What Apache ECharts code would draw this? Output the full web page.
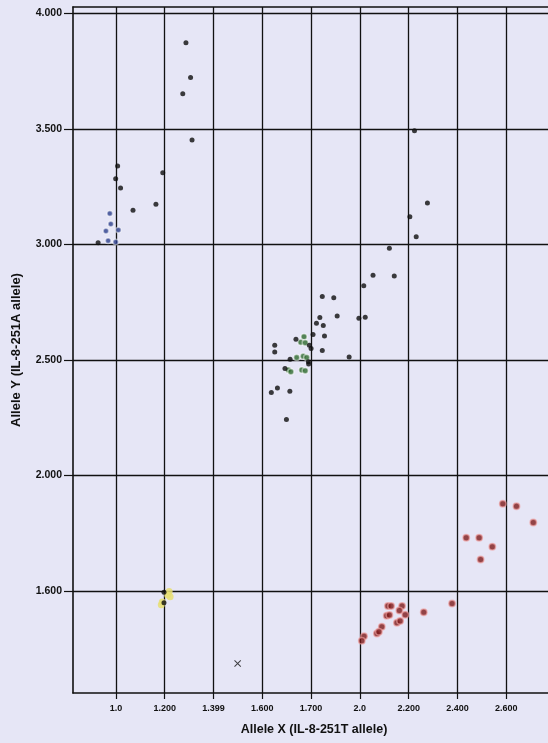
<!DOCTYPE html>
<html>
<head>
<meta charset="utf-8">
<script src="https://cdn.jsdelivr.net/npm/echarts@6/dist/echarts.min.js"></script>
<style>
  html, body { margin: 0; padding: 0; background: #e6e6f6; }
  #chart { width: 548px; height: 743px; }
</style>
</head>
<body>
<div id="chart"></div>
<script>
// Genotype clusters: [allele X signal, allele Y signal]
const blackPts = [
  [1.287, 3.873], [1.306, 3.723], [1.274, 3.652], [1.312, 3.452],
  [1.007, 3.340], [0.999, 3.284], [1.019, 3.244], [1.192, 3.310],
  [1.164, 3.174], [1.070, 3.148], [0.927, 3.007],
  [2.224, 3.492], [2.277, 3.179], [2.205, 3.120], [2.231, 3.033],
  [2.121, 2.983], [2.054, 2.867], [2.141, 2.863], [2.016, 2.821],
  [2.022, 2.685], [1.996, 2.680],
  [1.846, 2.775], [1.893, 2.769], [1.836, 2.684], [1.907, 2.690],
  [1.822, 2.659], [1.850, 2.649], [1.808, 2.610], [1.855, 2.604],
  [1.651, 2.564], [1.651, 2.534], [1.846, 2.541], [1.956, 2.513],
  [1.738, 2.590], [1.793, 2.564], [1.800, 2.550], [1.714, 2.503],
  [1.789, 2.492], [1.790, 2.482], [1.693, 2.463],
  [1.662, 2.379], [1.637, 2.359], [1.713, 2.364], [1.699, 2.242],
  [1.197, 1.494], [1.197, 1.449]
];
const bluePts = [
  [0.975, 3.134], [0.979, 3.088], [0.959, 3.058], [1.010, 3.062],
  [0.968, 3.016], [0.999, 3.011]
];
const greenPts = [
  [1.771, 2.600], [1.758, 2.577], [1.776, 2.574], [1.741, 2.511],
  [1.768, 2.516], [1.782, 2.511], [1.707, 2.456], [1.717, 2.449],
  [1.762, 2.456], [1.776, 2.453]
];
const yellowPts = [
  [1.218, 1.497], [1.212, 1.482], [1.222, 1.475], [1.190, 1.452], [1.186, 1.440]
];
const redPts = [
  [2.586, 1.877], [2.642, 1.866], [2.711, 1.796], [2.436, 1.730],
  [2.489, 1.730], [2.543, 1.691], [2.495, 1.636], [2.378, 1.446],
  [2.262, 1.408], [2.115, 1.435], [2.128, 1.435], [2.173, 1.435],
  [2.110, 1.392], [2.121, 1.396], [2.162, 1.415], [2.186, 1.397],
  [2.152, 1.362], [2.165, 1.370], [2.090, 1.345], [2.070, 1.316],
  [2.078, 1.323], [2.017, 1.304], [2.008, 1.284]
];
const noCallPts = [[1.499, 1.186]];

// Tick positions and the labels printed at them
const xTickValues = [1.0, 1.2, 1.4, 1.6, 1.8, 2.0, 2.2, 2.4, 2.6];
const xTickLabels = ['1.0', '1.200', '1.399', '1.600', '1.700', '2.0', '2.200', '2.400', '2.600'];
const yTickValues = [1.5, 2.0, 2.5, 3.0, 3.5, 4.0];
const yTickLabels = ['1.600', '2.000', '2.500', '3.000', '3.500', '4.000'];

function lookup(values, labels) {
  return function (v) {
    for (let i = 0; i < values.length; i++) {
      if (Math.abs(values[i] - v) < 1e-6) return labels[i];
    }
    return '';
  };
}

const chart = echarts.init(document.getElementById('chart'));
const ink = '#111111';
const font = 'Liberation Sans, Arial';
const crossPath = 'path://M0,1L1,0L5,4L9,0L10,1L6,5L10,9L9,10L5,6L1,10L0,9L4,5Z';

chart.setOption({
  backgroundColor: '#e6e6f6',
  animation: false,
  grid: { left: 73, top: 7, width: 482, height: 686, containLabel: false, outerBoundsMode: 'none' },
  xAxis: [{
    type: 'value',
    min: 0.824, max: 2.8,
    name: 'Allele X (IL-8-251T allele)',
    nameLocation: 'middle', nameGap: 30,
    nameTextStyle: { fontFamily: font, fontWeight: 'bold', fontSize: 12.5, color: ink },
    axisLine: { show: true, onZero: false, lineStyle: { color: ink, width: 1.6 } },
    axisTick: { show: true, inside: false, length: 6, customValues: xTickValues, lineStyle: { color: ink, width: 1.2 } },
    axisLabel: {
      margin: 11, fontFamily: font, fontWeight: 'bold', fontSize: 9, color: ink,
      customValues: xTickValues, formatter: lookup(xTickValues, xTickLabels)
    },
    splitLine: { show: true, lineStyle: { color: ink, width: 1.3 } }
  }, {
    // top border of the plot frame
    type: 'value', position: 'top', min: 0.824, max: 2.8,
    axisLine: { show: true, onZero: false, lineStyle: { color: ink, width: 1.6 } },
    axisTick: { show: false }, axisLabel: { show: false }, splitLine: { show: false }
  }],
  yAxis: {
    type: 'value',
    min: 1.058, max: 4.028,
    name: 'Allele Y (IL-8-251A allele)',
    nameLocation: 'middle', nameGap: 50, nameRotate: 90,
    nameTextStyle: { fontFamily: font, fontWeight: 'bold', fontSize: 13, color: ink },
    axisLine: { show: true, onZero: false, lineStyle: { color: ink, width: 1.6 } },
    axisTick: { show: true, inside: false, length: 9, customValues: yTickValues, lineStyle: { color: ink, width: 1.2 } },
    axisLabel: {
      margin: 11, fontFamily: font, fontWeight: 'bold', fontSize: 10.5, color: ink,
      customValues: yTickValues, formatter: lookup(yTickValues, yTickLabels)
    },
    splitLine: { show: true, lineStyle: { color: ink, width: 1.3 } }
  },
  series: [
    {
      name: 'Heterozygous', type: 'scatter', data: greenPts, symbolSize: 6,
      itemStyle: { color: '#2e6a2e', borderColor: 'rgba(255,255,255,0.6)', borderWidth: 1.5 }
    },
    {
      name: 'Allele Y', type: 'scatter', data: bluePts, symbolSize: 5.5,
      itemStyle: { color: '#2c3f8c', borderColor: 'rgba(255,255,255,0.6)', borderWidth: 1.5 }
    },
    {
      name: 'Allele X', type: 'scatter', data: redPts, symbolSize: 6.5,
      itemStyle: { color: '#7d1a1a', borderColor: 'rgba(240,160,160,0.8)', borderWidth: 1.5 }
    },
    {
      name: 'Control', type: 'scatter', data: yellowPts, symbolSize: 7,
      itemStyle: { color: '#e6de72', opacity: 0.85 }
    },
    {
      name: 'Unassigned', type: 'scatter', data: blackPts, symbolSize: 5,
      itemStyle: { color: '#0e0e0e' }
    },
    {
      name: 'No call', type: 'scatter', data: noCallPts, symbol: crossPath, symbolSize: 7,
      itemStyle: { color: '#141414' }
    }
  ]
});
</script>
</body>
</html>
